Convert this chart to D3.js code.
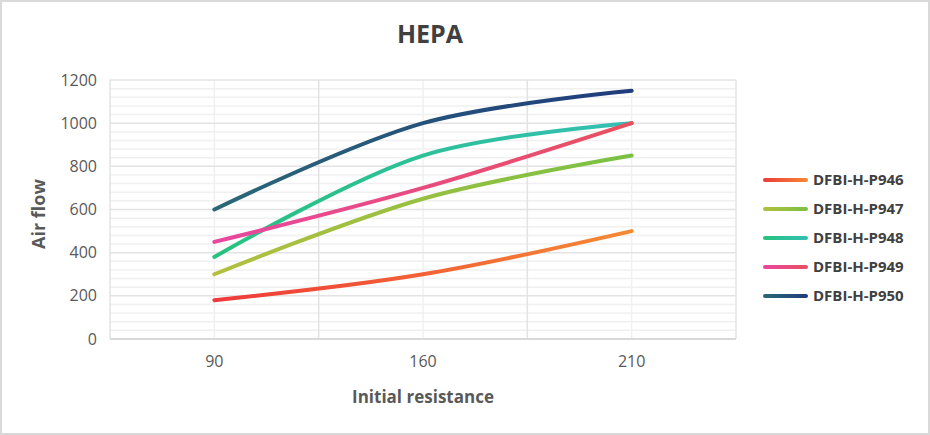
<!DOCTYPE html>
<html>
<head>
<meta charset="utf-8">
<script src="https://cdn.jsdelivr.net/npm/d3@7/dist/d3.min.js"></script>
<style>
html,body{margin:0;padding:0;background:#fff;}
svg{display:block;}
text{font-family:"Open Sans",sans-serif;}
</style>
</head>
<body>
<svg id="chart" width="930" height="435"></svg>
<script>
const categories = ["90", "160", "210"];
const seriesNames = ["DFBI-H-P946", "DFBI-H-P947", "DFBI-H-P948", "DFBI-H-P949", "DFBI-H-P950"];
const p946 = [180, 300, 500];
const p947 = [300, 650, 850];
const p948 = [380, 850, 1000];
const p949 = [450, 700, 1000];
const p950 = [600, 1000, 1150];
const yTicks = [0, 200, 400, 600, 800, 1000, 1200];
const gradStart = ["#ee3a3a", "#b3bf3f", "#27c27e", "#e8479f", "#2b6878"];
const gradEnd   = ["#f58a33", "#79c143", "#33bfb4", "#e8505e", "#1f3c7c"];

const allSeries = [p946, p947, p948, p949, p950];

const svg = d3.select("#chart");
const W = 930, H = 435;
const plot = {l: 110, r: 736, t: 80, b: 339};

svg.append("rect").attr("x", 1).attr("y", 1).attr("width", W - 2).attr("height", H - 2)
  .attr("fill", "#fff").attr("stroke", "#d9d9d9").attr("stroke-width", 2);

const x = d3.scaleBand().domain(categories).range([plot.l, plot.r]);
const xc = c => x(c) + x.bandwidth() / 2;
const y = d3.scaleLinear().domain([0, 1200]).range([plot.b, plot.t]);

const defs = svg.append("defs");
allSeries.forEach((s, i) => {
  const g = defs.append("linearGradient").attr("id", "g" + i)
    .attr("gradientUnits", "userSpaceOnUse")
    .attr("x1", xc(categories[0])).attr("x2", xc(categories[categories.length - 1]))
    .attr("y1", 0).attr("y2", 0);
  g.append("stop").attr("offset", "0%").attr("stop-color", gradStart[i]);
  g.append("stop").attr("offset", "100%").attr("stop-color", gradEnd[i]);
  const lg = defs.append("linearGradient").attr("id", "lg" + i)
    .attr("gradientUnits", "userSpaceOnUse")
    .attr("x1", 763).attr("x2", 808).attr("y1", 0).attr("y2", 0);
  lg.append("stop").attr("offset", "0%").attr("stop-color", gradStart[i]);
  lg.append("stop").attr("offset", "100%").attr("stop-color", gradEnd[i]);
});

const minor = d3.range(0, 1201, 40).filter(v => v % 200 !== 0);
svg.append("g").selectAll("line").data(minor).join("line")
  .attr("x1", plot.l).attr("x2", plot.r)
  .attr("y1", d => y(d)).attr("y2", d => y(d))
  .attr("stroke", "#f0f0f0").attr("stroke-width", 1.5);
svg.append("g").selectAll("line").data(categories).join("line")
  .attr("x1", d => xc(d)).attr("x2", d => xc(d))
  .attr("y1", plot.t).attr("y2", plot.b)
  .attr("stroke", "#f0f0f0").attr("stroke-width", 1.5);
svg.append("g").selectAll("line").data(yTicks.filter(v => v > 0)).join("line")
  .attr("x1", plot.l).attr("x2", plot.r)
  .attr("y1", d => y(d)).attr("y2", d => y(d))
  .attr("stroke", "#e3e3e3").attr("stroke-width", 1.5);
const bounds = categories.map(c => x(c)).concat([plot.r]);
svg.append("g").selectAll("line").data(bounds).join("line")
  .attr("x1", d => d).attr("x2", d => d)
  .attr("y1", plot.t).attr("y2", plot.b)
  .attr("stroke", "#e3e3e3").attr("stroke-width", 1.5);
svg.append("line").attr("x1", plot.l).attr("x2", plot.r).attr("y1", plot.b).attr("y2", plot.b)
  .attr("stroke", "#d9d9d9").attr("stroke-width", 2);

const yAxis = svg.append("g").attr("transform", `translate(${plot.l},0)`)
  .call(d3.axisLeft(y).tickValues(yTicks).tickFormat(d3.format("d")).tickSize(0).tickPadding(13));
yAxis.select(".domain").remove();
yAxis.selectAll("text").attr("font-size", 16).attr("fill", "#595959")
  .attr("font-family", "'Open Sans',sans-serif");

const xAxis = svg.append("g").attr("transform", `translate(0,${plot.b})`)
  .call(d3.axisBottom(x).tickSize(0).tickPadding(17));
xAxis.select(".domain").remove();
xAxis.selectAll("text").attr("font-size", 16).attr("fill", "#595959")
  .attr("font-family", "'Open Sans',sans-serif");

const line = d3.line().x((d, i) => xc(categories[i])).y(d => y(d)).curve(d3.curveCatmullRom.alpha(0.5));
allSeries.forEach((s, i) => {
  svg.append("path").datum(s).attr("d", line)
    .attr("fill", "none").attr("stroke", `url(#g${i})`)
    .attr("stroke-width", 4).attr("stroke-linecap", "round");
});

svg.append("text").attr("x", 430).attr("y", 43).attr("text-anchor", "middle")
  .attr("font-size", 25).attr("font-weight", "bold").attr("fill", "#404040").text("HEPA");

svg.append("text").attr("x", 423).attr("y", 403).attr("text-anchor", "middle")
  .attr("font-size", 17).attr("font-weight", "bold").attr("fill", "#595959").text("Initial resistance");
svg.append("text").attr("transform", "translate(45,214) rotate(-90)").attr("text-anchor", "middle")
  .attr("font-size", 18).attr("font-weight", "bold").attr("fill", "#595959").text("Air flow");

const lg = svg.append("g");
seriesNames.forEach((n, i) => {
  const yy = 180 + i * 29;
  lg.append("line").attr("x1", 765).attr("x2", 806).attr("y1", yy).attr("y2", yy)
    .attr("stroke", `url(#lg${i})`).attr("stroke-width", 4).attr("stroke-linecap", "round");
  lg.append("text").attr("x", 813).attr("y", yy + 5).attr("font-size", 15)
    .attr("font-weight", "bold").attr("fill", "#404040").text(n);
});
</script>
</body>
</html>
